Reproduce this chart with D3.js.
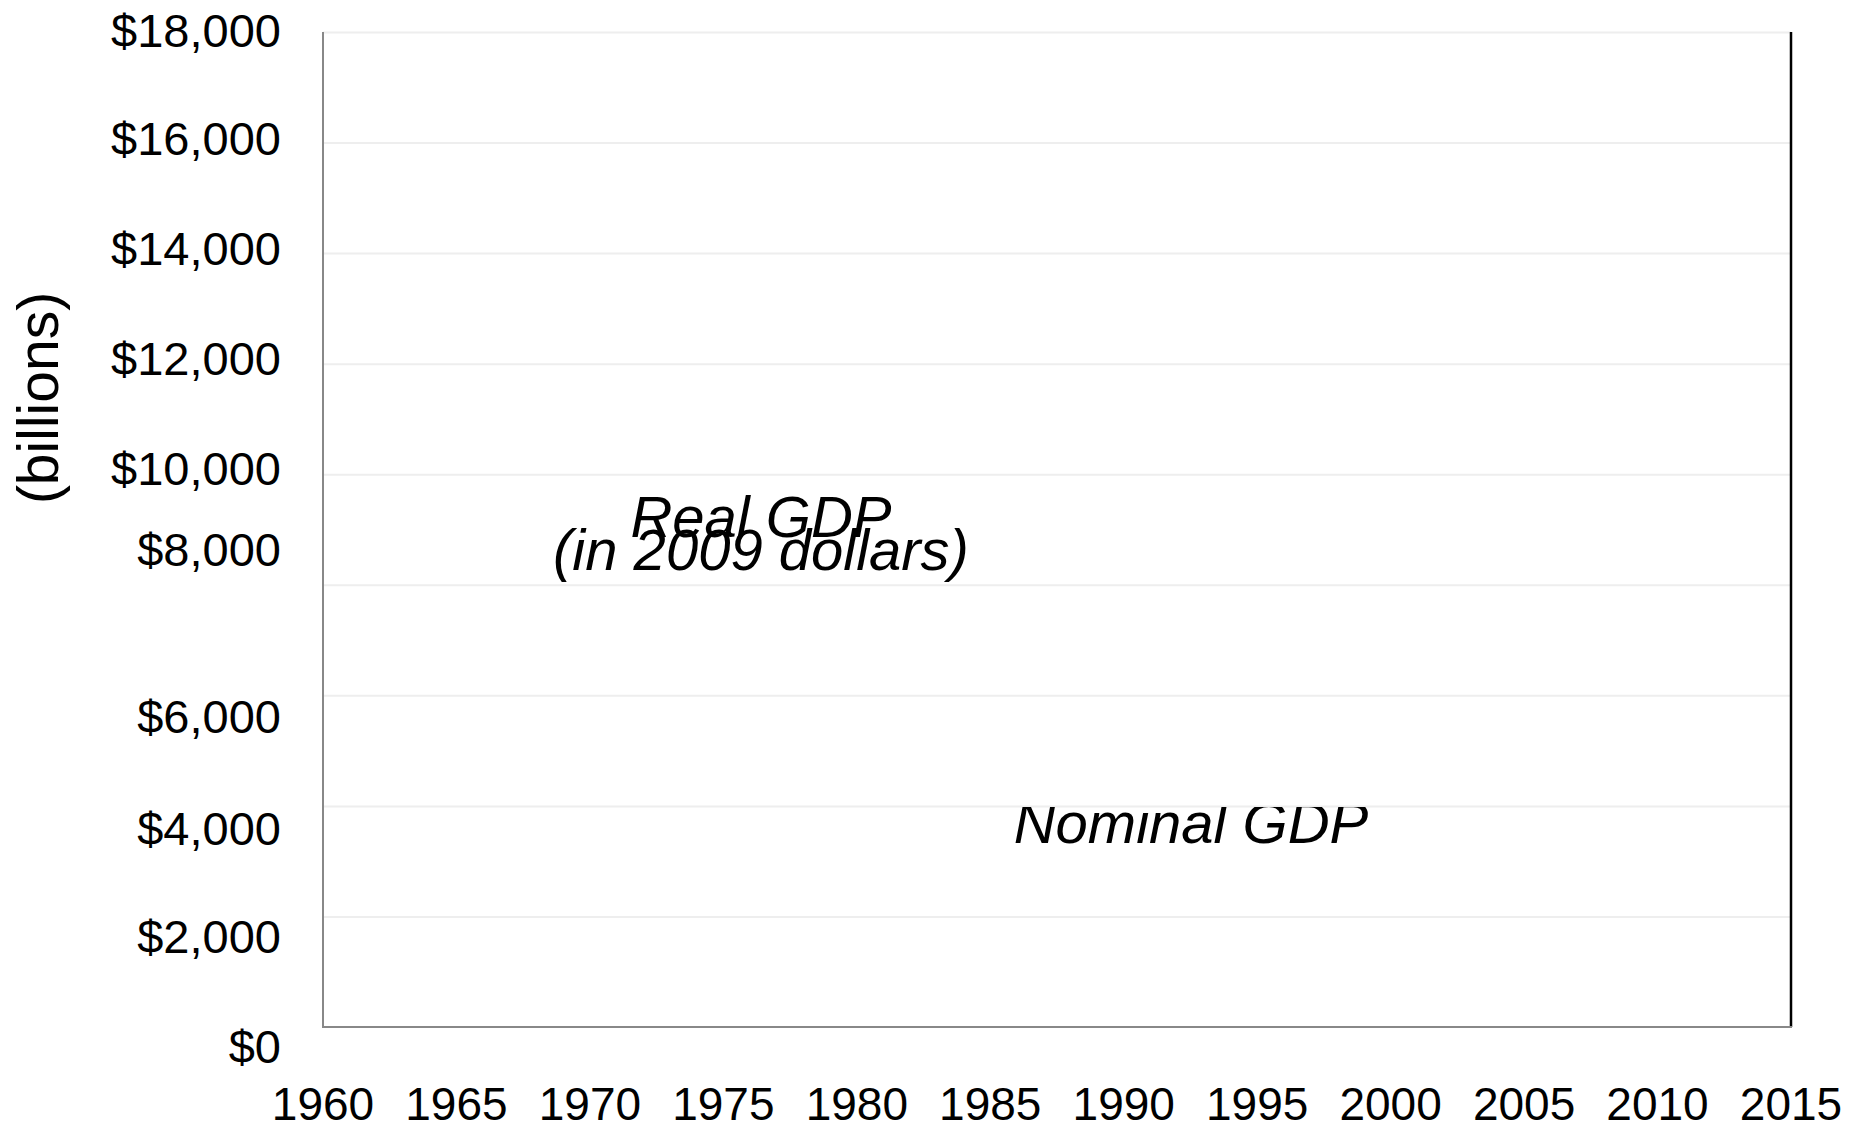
<!DOCTYPE html>
<html>
<head>
<meta charset="utf-8">
<script src="https://cdn.jsdelivr.net/npm/d3@7"></script>
<style>
  body { margin: 0; background: #fff; }
  text { font-family: "Liberation Sans", Arial, sans-serif; fill: #000; }
</style>
</head>
<body>
<script>
// chart values
var years = [1960, 1965, 1970, 1975, 1980, 1985, 1990, 1995, 2000, 2005, 2010, 2015];
var dollarTicks = [0, 2000, 4000, 6000, 8000, 10000, 12000, 14000, 16000, 18000];
var yAxisTitle = '(billions)';
var realLabel = ['Real GDP', '(in 2009 dollars)'];
var nominalLabel = 'Nominal GDP';

// the source labels sit a little off their gridlines, keep that look
var labelNudge = [21, 21.5, 24, 22.5, -33.5, -4, -3.5, -3, -2.5, 0];

var settings = {
  width: 1862,
  height: 1125,
  left: 323,
  right: 1791,
  top: 32,
  bottom: 1027
}

var x = d3.scaleLinear().domain([1960, 2015]).range([settings.left, settings.right]);
var y = d3.scaleLinear().domain([0, 18000]).range([settings.bottom, settings.top]);

var svg = d3.select('body').append('svg')
  .attr('width', settings.width)
  .attr('height', settings.height);

// gridlines
svg.append('g')
  .attr('transform', 'translate(' + settings.left + ',0)')
  .call(d3.axisLeft(y).tickValues(dollarTicks.slice(1)).tickSize(-(settings.right - settings.left)).tickFormat(''))
  .call(function(g){
    g.select('.domain').remove();
    g.selectAll('line').attr('stroke', '#eeeeee').attr('stroke-width', 2);
  });

// frame
svg.append('line')
  .attr('x1', settings.right).attr('x2', settings.right)
  .attr('y1', settings.top).attr('y2', settings.bottom)
  .attr('stroke', '#000').attr('stroke-width', 2.5);

svg.append('line')
  .attr('x1', settings.left).attr('x2', settings.left)
  .attr('y1', settings.top).attr('y2', settings.bottom)
  .attr('stroke', '#888').attr('stroke-width', 2);

svg.append('line')
  .attr('x1', settings.left - 1).attr('x2', settings.right + 1)
  .attr('y1', settings.bottom).attr('y2', settings.bottom)
  .attr('stroke', '#888').attr('stroke-width', 2);

// y tick labels
svg.append('g').selectAll('text').data(dollarTicks)
  .enter().append('text')
    .attr('x', 281)
    .attr('y', function(d, i){ return y(d) + labelNudge[i] + 15; })
    .attr('text-anchor', 'end')
    .style('font-size', '47px')
    .text(function(d){ return '$' + d3.format(',')(d); });

// x tick labels
svg.append('g').selectAll('text').data(years)
  .enter().append('text')
    .attr('x', function(d){ return x(d); })
    .attr('y', 1120)
    .attr('text-anchor', 'middle')
    .style('font-size', '46px')
    .text(function(d){ return d; });

// axis title
svg.append('text')
  .attr('transform', 'translate(58,398) rotate(-90)')
  .attr('text-anchor', 'middle')
  .style('font-size', '57px')
  .text(yAxisTitle);

// series labels
svg.append('g').selectAll('text').data(realLabel)
  .enter().append('text')
    .attr('x', 761)
    .attr('y', function(d, i){ return 537 + i * 33; })
    .attr('text-anchor', 'middle')
    .style('font-size', '58px')
    .style('font-style', 'italic')
    .text(function(d){ return d; });

svg.append('clipPath')
  .attr('id', 'nomClip')
  .append('rect')
    .attr('x', settings.left)
    .attr('y', y(4000) + 1)
    .attr('width', settings.right - settings.left)
    .attr('height', settings.bottom - y(4000));

svg.append('text')
  .attr('x', 1191)
  .attr('y', 843)
  .attr('text-anchor', 'middle')
  .attr('clip-path', 'url(#nomClip)')
  .style('font-size', '58px')
  .style('font-style', 'italic')
  .text(nominalLabel);
</script>
</body>
</html>
